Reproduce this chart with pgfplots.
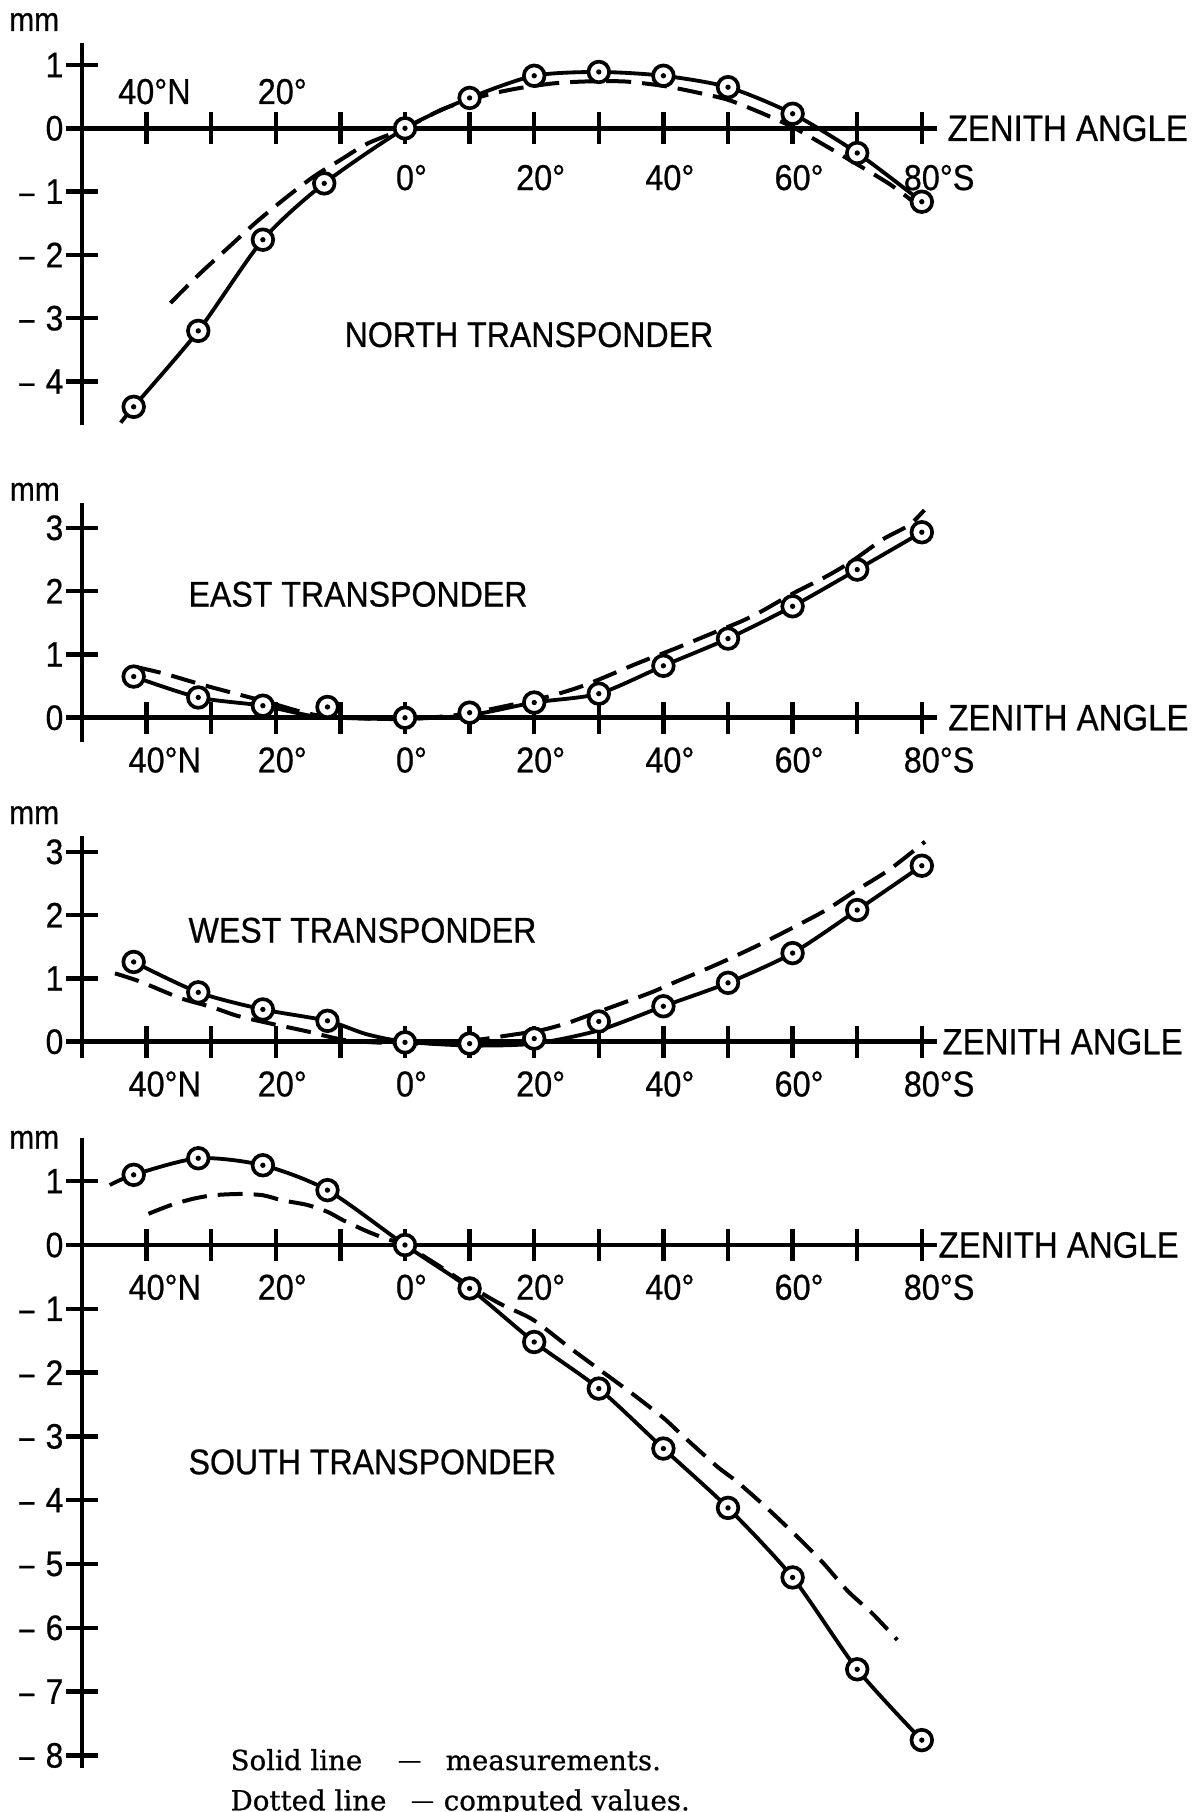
\documentclass[border=0pt]{standalone}
\usepackage{pgfplots}
\pgfplotsset{compat=1.18}
\usepackage{fontspec}
\setmainfont{Liberation Sans}[FakeStretch=0.9, FakeBold=0.6]
\newfontfamily\legfont{DejaVu Serif}[FakeBold=0.8]

\pgfdeclareplotmark{circdot}{%
  \pgfsetfillcolor{white}%
  \pgfpathcircle{\pgfpointorigin}{\pgfplotmarksize}%
  \pgfusepathqfillstroke
  \pgfsetfillcolor{black}%
  \pgfpathcircle{\pgfpointorigin}{0.8pt}%
  \pgfusepathqfill
}

\pgfplotsset{
  panel/.style={
    anchor=origin,
    x=1.938pt, y=18.99pt,
    xmin=-50, xmax=82.3,
    axis x line*=middle, axis y line*=left,
    axis line style={-, line width=1.35pt},
    hide obscured x ticks=false, hide obscured y ticks=false,
    clip=false,
    tick align=center,
    major tick length=9.6pt,
    tick style={black, line width=1.35pt},
    minor tick num=0,
    xtick={-40,-30,-20,-10,0,10,20,30,40,50,60,70,80},
    xticklabels={40\rlap{°N},{},20\rlap{°},{},0\rlap{°},{},20\rlap{°},{},40\rlap{°},{},60\rlap{°},{},80\rlap{°S}},
    xticklabel style={font=\fontsize{10.8}{12}\selectfont, anchor=center, inner sep=0pt, yshift=-7.9pt},
    yticklabel style={font=\fontsize{10.6}{12}\selectfont, anchor=east, inner sep=0pt, xshift=-0.6pt},
  },
  meas/.style={line width=1.15pt, smooth, tension=0.45},
  comp/.style={line width=1.2pt, dash pattern=on 7.5pt off 3.3pt, smooth, tension=0.45},
  pts/.style={only marks, mark=circdot, mark size=3.1pt, mark options={line width=1.1pt, solid}},
}
\tikzset{
  lab/.style={font=\fontsize{10.7}{12}\selectfont, anchor=west, inner sep=0pt},
  zen/.style={font=\fontsize{11}{12}\selectfont, anchor=west, inner sep=0pt},
  mmlab/.style={font=\fontsize{10}{11}\selectfont, inner sep=0pt},
  tl/.style={font=\fontsize{10.8}{12}\selectfont, inner sep=0pt, anchor=center},
  leg/.style={font=\legfont\fontsize{8.3}{10}\selectfont, inner sep=0pt, anchor=base west},
  legdash/.style={font=\legfont\fontsize{7}{8}\selectfont, inner sep=0pt, anchor=base west, yshift=0.6pt},
}
\newcommand\mn{\scalebox{0.85}[1]{–}\hspace{3.4pt}}

\begin{document}
\begin{tikzpicture}
\useasboundingbox (0pt,0pt) rectangle (360.6pt,-543.6pt);

% ---------------- NORTH ----------------
\begin{axis}[panel, at={(121.5pt,-38.49pt)}, ymin=-4.69, ymax=1.34,
  ytick={-4,-3,-2,-1,0,1}, yticklabels={\mn4,\mn3,\mn2,\mn1,0,1},
  xticklabels={{},{},{},{},0\rlap{°},{},20\rlap{°},{},40\rlap{°},{},60\rlap{°},{},80\rlap{°S}},
  xticklabel style={yshift=-2.1pt}]
\addplot[comp] table[row sep=\\]{x y\\
-36.3 -2.76\\ -32 -2.32\\ -27.2 -1.87\\ -23 -1.48\\ -18.6 -1.11\\ -14.1 -0.76\\ -10 -0.50\\ -5.8 -0.24\\ 0 0\\
3 0.16\\ 6 0.31\\ 10 0.45\\ 14 0.56\\ 18 0.64\\ 23 0.71\\ 28 0.74\\ 34 0.74\\ 40 0.67\\ 45 0.57\\ 50 0.45\\
55 0.25\\ 60 0.02\\ 65 -0.27\\ 70 -0.57\\ 75 -0.88\\ 78.3 -1.13\\};
\addplot[meas] table[row sep=\\]{x y\\
-44 -4.65\\ -42 -4.40\\ -32 -3.20\\ -22 -1.76\\ -12.5 -0.87\\ 0 0\\ 10 0.48\\ 20 0.83\\ 30 0.89\\ 40 0.83\\
50 0.65\\ 60 0.23\\ 70 -0.39\\ 80 -1.16\\};
\addplot[pts] table[row sep=\\]{x y\\
-42 -4.40\\ -32 -3.20\\ -22 -1.76\\ -12.5 -0.87\\ 0 0\\ 10 0.48\\ 20 0.83\\ 30 0.89\\ 40 0.83\\
50 0.65\\ 60 0.23\\ 70 -0.39\\ 80 -1.16\\};
\node[tl] at (axis cs:-41.6,0.58) {40\rlap{°N}};
\node[tl] at (axis cs:-20,0.58) {20\rlap{°}};
\node[lab] at (axis cs:-9.44,-3.26) {NORTH TRANSPONDER};
\node[zen] at (axis cs:83.9,0) {ZENITH ANGLE};
\node[mmlab] at (axis cs:-57.4,1.68) {mm};
\end{axis}

% ---------------- EAST ----------------
\begin{axis}[panel, at={(121.5pt,-215.31pt)}, ymin=-0.38, ymax=3.39,
  ytick={0,1,2,3}, yticklabels={0,1,2,3}]
\addplot[comp] table[row sep=\\]{x y\\
-41.6 0.80\\ -37.4 0.70\\ -31.7 0.53\\ -26.6 0.39\\ -21.4 0.25\\ -16.3 0.10\\ -13 0.03\\ -7 -0.01\\ 0 -0.02\\
6 0.02\\ 10 0.07\\ 14 0.15\\ 22 0.33\\ 28 0.52\\ 36 0.86\\ 42 1.10\\ 47 1.31\\ 52 1.52\\ 55 1.67\\ 60 1.96\\
65 2.22\\ 69 2.46\\ 74 2.82\\ 78 3.04\\ 80.4 3.28\\};
\addplot[meas] table[row sep=\\]{x y\\
-42 0.65\\ -32 0.32\\ -22 0.19\\ -14 0.02\\ -7 -0.01\\ 0 -0.02\\ 10 0.04\\ 20 0.24\\ 30 0.38\\ 40 0.82\\
50 1.25\\ 60 1.76\\ 70 2.34\\ 80 2.93\\};
\addplot[pts] table[row sep=\\]{x y\\
-42 0.65\\ -32 0.32\\ -22 0.19\\ -12 0.17\\ 0 0\\ 10 0.08\\ 20 0.24\\ 30 0.38\\ 40 0.82\\
50 1.25\\ 60 1.76\\ 70 2.34\\ 80 2.93\\};
\node[lab] at (axis cs:-33.6,1.95) {EAST TRANSPONDER};
\node[zen] at (axis cs:84,0) {ZENITH ANGLE};
\node[mmlab] at (axis cs:-57.3,3.57) {mm};
\end{axis}

% ---------------- WEST ----------------
\begin{axis}[panel, at={(121.5pt,-312.51pt)}, ymin=-0.26, ymax=3.25,
  ytick={0,1,2,3}, yticklabels={0,1,2,3}]
\addplot[comp] table[row sep=\\]{x y\\
-44.9 1.08\\ -41 0.95\\ -34.8 0.69\\ -30 0.55\\ -26 0.41\\ -21.4 0.30\\ -15 0.16\\ -11 0.06\\ -8 0.01\\ 0 -0.03\\
8 -0.01\\ 12 0.04\\ 16 0.10\\ 21 0.18\\ 25 0.29\\ 28 0.40\\ 35 0.66\\ 38.4 0.79\\ 42 0.95\\ 46 1.12\\
50 1.30\\ 55 1.54\\ 60 1.80\\ 65 2.07\\ 70 2.40\\ 75 2.72\\ 80.5 3.16\\};
\addplot[meas] table[row sep=\\]{x y\\
-42 1.26\\ -32 0.78\\ -22 0.51\\ -12 0.33\\ -6 0.12\\ 0 0\\ 10 -0.06\\ 20 -0.03\\ 30 0.18\\ 40 0.56\\
50 0.93\\ 60 1.40\\ 70 2.08\\ 80 2.78\\};
\addplot[pts] table[row sep=\\]{x y\\
-42 1.26\\ -32 0.78\\ -22 0.51\\ -12 0.33\\ 0 -0.01\\ 10 -0.03\\ 20 0.05\\ 30 0.32\\ 40 0.56\\
50 0.93\\ 60 1.40\\ 70 2.08\\ 80 2.78\\};
\node[lab] at (axis cs:-33.6,1.76) {WEST TRANSPONDER};
\node[zen] at (axis cs:83.1,0) {ZENITH ANGLE};
\node[mmlab] at (axis cs:-57.4,3.58) {mm};
\end{axis}

% ---------------- SOUTH ----------------
\begin{axis}[panel, y=19.14pt, at={(121.5pt,-373.5pt)}, ymin=-8.2, ymax=1.68,
  ytick={-8,-7,-6,-5,-4,-3,-2,-1,0,1},
  yticklabels={\mn8,\mn7,\mn6,\mn5,\mn4,\mn3,\mn2,\mn1,0,1}]
\addplot[comp] table[row sep=\\]{x y\\
-39.7 0.49\\ -36.4 0.62\\ -33 0.72\\ -29.7 0.78\\ -25.5 0.80\\ -22 0.78\\ -19 0.70\\ -15.2 0.63\\ -12 0.52\\
-9.6 0.39\\ -6 0.22\\ -3 0.10\\ 0 0\\ 5 -0.31\\ 10 -0.64\\ 14.7 -0.92\\ 19.8 -1.17\\ 25.5 -1.61\\ 30.6 -1.99\\
35.3 -2.34\\ 40 -2.71\\ 43 -2.99\\ 48.3 -3.47\\ 51.4 -3.71\\ 56 -4.12\\ 60.7 -4.57\\ 64.7 -4.98\\ 68.6 -5.43\\
72.3 -5.77\\ 76.2 -6.19\\};
\addplot[meas] table[row sep=\\]{x y\\
-45.7 0.94\\ -42 1.10\\ -32 1.36\\ -22 1.25\\ -12 0.86\\ 0 0\\ 10 -0.68\\ 20 -1.52\\ 30 -2.25\\ 40 -3.19\\
50 -4.12\\ 60 -5.21\\ 70 -6.65\\ 80 -7.76\\};
\addplot[pts] table[row sep=\\]{x y\\
-42 1.10\\ -32 1.36\\ -22 1.25\\ -12 0.86\\ 0 0\\ 10 -0.68\\ 20 -1.52\\ 30 -2.25\\ 40 -3.19\\
50 -4.12\\ 60 -5.21\\ 70 -6.65\\ 80 -7.76\\};
\node[lab] at (axis cs:-33.6,-3.40) {SOUTH TRANSPONDER};
\node[zen] at (axis cs:82.5,0) {ZENITH ANGLE};
\node[mmlab] at (axis cs:-57.4,1.65) {mm};
\node[leg] at (axis cs:-27.1,-8.23) {Solid line};
\node[legdash] at (axis cs:-1.2,-8.23) {—};
\node[leg] at (axis cs:6.2,-8.23) {measurements.};
\node[leg] at (axis cs:-27.1,-8.86) {Dotted line};
\node[legdash] at (axis cs:0.8,-8.86) {—};
\node[leg] at (axis cs:5.9,-8.86) {computed values.};
\end{axis}
\end{tikzpicture}
\end{document}
